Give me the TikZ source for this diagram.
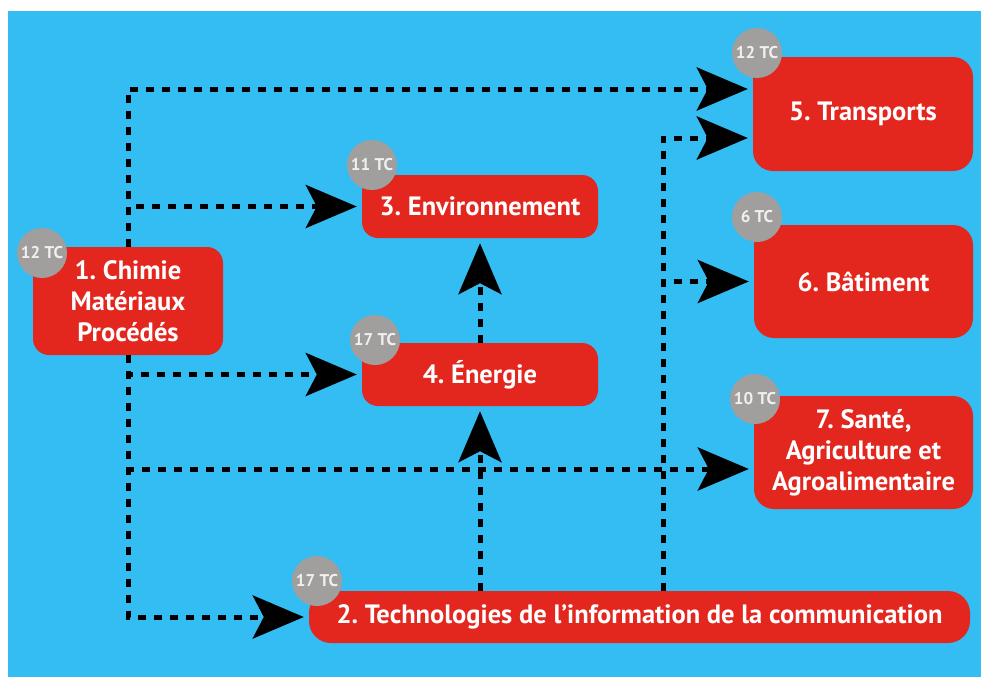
\documentclass[tikz,border=0pt]{standalone}
\usepackage{fontspec}
\setmainfont{PT Sans}
\usepackage{xcolor}
\usetikzlibrary{arrows.meta}

\definecolor{skyblue}{HTML}{33BDF2}
\definecolor{boxred}{HTML}{E3271E}
\definecolor{badgegray}{HTML}{A19F9D}

\tikzset{
    box/.style={rectangle, rounded corners=16pt, fill=boxred, text=white, align=center, inner sep=0pt,
        font=\bfseries\fontsize{26.5}{31}\selectfont},
    badge/.style={circle, fill=badgegray, minimum size=50pt, inner sep=0pt, text=white!94!black,
        font=\bfseries\fontsize{17}{19}\selectfont},
    flow/.style={line width=5pt, dash pattern=on 8pt off 8pt,
        -{Stealth[length=51pt,width=43pt,inset=11pt]}, shorten >=5pt}
}

\begin{document}
\frenchspacing
\begin{tikzpicture}[x=1pt,y=-1pt]
            \useasboundingbox (0,0) rectangle (981,677);
            \fill[skyblue] (8,11) rectangle (981,677);

            % Domains
            \node[box, minimum width=190pt, minimum height=108pt] (chimie) at (128,301) {1. Chimie\\Matériaux\\Procédés};
            \node[box, minimum width=661pt, minimum height=52pt, rounded corners=22pt] (tic) at (639.5,617) {2. Technologies de l’information de la communication};
            \node[box, minimum width=236pt, minimum height=63pt] (envir) at (480,206.5) {3. Environnement};
            \node[box, minimum width=236pt, minimum height=63pt] (energie) at (480,374.5) {4. Énergie};
            \node[box, minimum width=220pt, minimum height=114pt, rounded corners=20pt] (transp) at (863,114) {5. Transports};
            \node[box, minimum width=219pt, minimum height=113pt, rounded corners=20pt] (batim) at (863.5,281.5) {6. Bâtiment};
            \node[box, minimum width=219pt, minimum height=113pt, rounded corners=20pt] (sante) at (863.5,452.5) {7. Santé,\\Agriculture et\\Agroalimentaire};

            \draw[flow] (chimie.north) |- ([yshift=25pt]transp.west);
            \draw[flow] (chimie.north) |- (envir.west);
            \draw[flow] (chimie.south) |- (energie.west);
            \draw[flow] (chimie.south) |- ([yshift=-16.5pt]sante.west);
            \draw[flow] (chimie.south) |- (tic.west);
            \draw[flow] (energie.south |- tic.north) -- (energie.south);
            \draw[flow] (energie.north) -- (envir.south);
            \draw[flow] ([xshift=23.5pt]tic.north) |- ([yshift=-24pt]transp.west);
            \draw[flow] ([xshift=23.5pt]tic.north) |- (batim.west);

            % Credits
            \node[badge] (tc1) at (42,253) {12 TC};
            \node[badge] (tc2) at (317,581) {17 TC};
            \node[badge] (tc3) at (372,165) {11 TC};
            \node[badge] (tc4) at (375,340) {17 TC};
            \node[badge] (tc5) at (757,53) {12 TC};
            \node[badge] (tc6) at (757,217) {6 TC};
            \node[badge] (tc7) at (755,399) {10 TC};
        \end{tikzpicture}
\end{document}
